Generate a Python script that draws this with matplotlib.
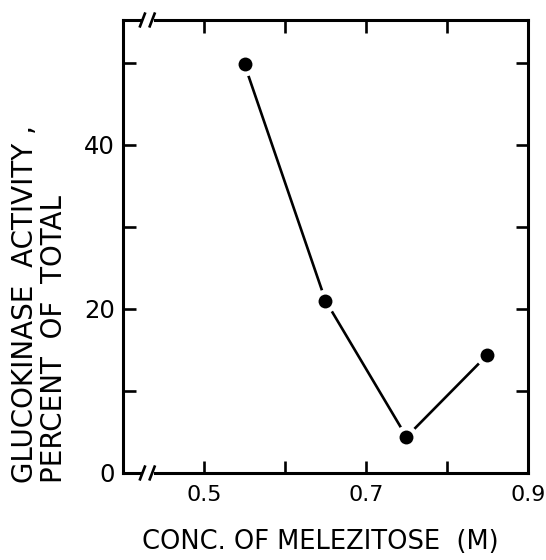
import matplotlib
matplotlib.use("Agg")
import matplotlib.pyplot as plt
from matplotlib.ticker import FixedLocator, NullFormatter

# data
conc = [0.55, 0.65, 0.75, 0.85]
activity = [49.8, 21.0, 4.4, 14.4]

x_major = [0.5, 0.7, 0.9]
x_minor = [0.6, 0.8]
y_major = [0, 20, 40]
y_minor = [10, 30, 50]

plt.rcParams['font.family'] = ['DejaVu Sans']

fig = plt.figure(figsize=(5.46, 5.60), dpi=100)
ax = fig.add_axes([0.2253, 0.1554, 0.7417, 0.8089])

ax.set_xlim(0.4, 0.9)
ax.set_ylim(0, 55.2)

# line with small gaps around the dots
ax.plot(conc, activity, color='black', lw=1.9, zorder=2, solid_capstyle='butt')
ax.plot(conc, activity, 'o', color='white', ms=17, mew=0, zorder=3)
ax.plot(conc, activity, 'o', color='black', ms=10, mew=0, zorder=4)

# ticks
ax.xaxis.set_major_locator(FixedLocator(x_major))
ax.xaxis.set_minor_locator(FixedLocator(x_minor))
ax.yaxis.set_major_locator(FixedLocator(y_major))
ax.yaxis.set_minor_locator(FixedLocator(y_minor))
ax.set_xticklabels(['0.5', '0.7', '0.9'])
ax.set_yticklabels(['0', '20', '40'])
ax.xaxis.set_minor_formatter(NullFormatter())
ax.yaxis.set_minor_formatter(NullFormatter())
ax.tick_params(which='both', direction='in', length=9, width=1.9,
               top=True, right=True)
ax.tick_params(axis='x', which='major', pad=9, labelsize=16)
ax.tick_params(axis='y', which='major', pad=6, labelsize=17.5)

for s in ['left', 'right']:
    ax.spines[s].set_linewidth(2.2)

# broken bottom / top spines
gap_lo, gap_hi = 0.421, 0.439
for s in ['bottom', 'top']:
    ax.spines[s].set_linewidth(2.2)
    ax.spines[s].set_bounds(gap_hi, 0.9)
tr = ax.get_xaxis_transform()
for yy in [0, 1]:
    ax.plot([0.4, gap_lo], [yy, yy], color='black', lw=2.2, transform=tr,
            clip_on=False, solid_capstyle='projecting')
    for xs in [0.424, 0.436]:
        ax.plot([xs - 0.003, xs + 0.003], [yy - 0.014, yy + 0.014], color='black',
                lw=1.9, transform=tr, clip_on=False)

fig.text(0.586, 0.032, 'CONC. OF MELEZITOSE  (M)', ha='center', va='center',
         fontsize=18.5)
fig.text(0.046, 0.137, 'GLUCOKINASE  ACTIVITY ,', rotation=90, ha='center',
         va='bottom', fontsize=20)
fig.text(0.099, 0.137, 'PERCENT  OF  TOTAL', rotation=90, ha='center',
         va='bottom', fontsize=20)

fig.savefig('out.png', dpi=100)
